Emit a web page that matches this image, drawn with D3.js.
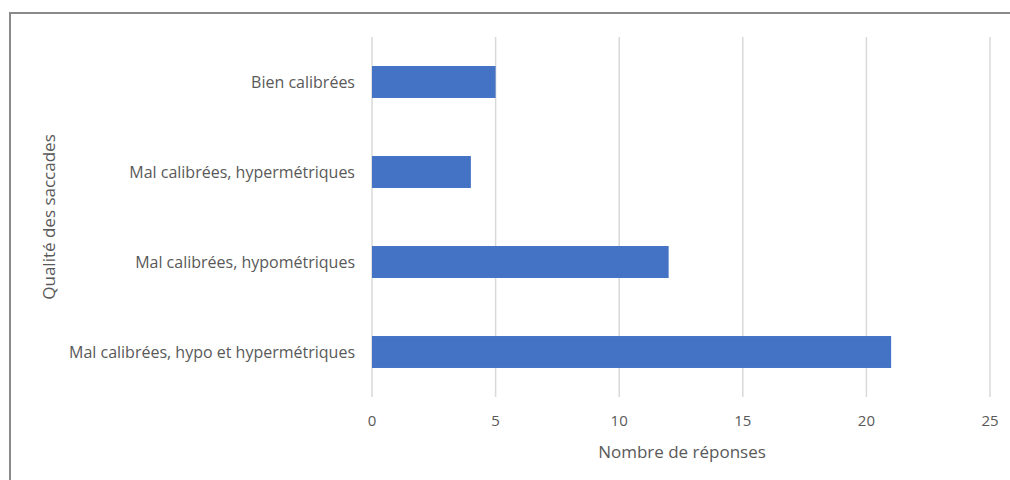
<!DOCTYPE html>
<html>
<head>
<meta charset="utf-8">
<script src="https://cdn.jsdelivr.net/npm/d3@7"></script>
<style>
  body { margin: 0; background: #fff; }
  svg text { font-family: 'Open Sans', sans-serif; fill: #595959; }
</style>
</head>
<body>
<svg id="chart" width="1010" height="480"></svg>
<script>
let categories = [
    'Bien calibrées',
    'Mal calibrées, hypermétriques',
    'Mal calibrées, hypométriques',
    'Mal calibrées, hypo et hypermétriques'
];
let values = [5, 4, 12, 21];
let xTicks = [0, 5, 10, 15, 20, 25];

let svg = d3.select('#chart');
let width = +svg.attr('width');
let height = +svg.attr('height');

let margin = { top: 37, right: 20, bottom: 83, left: 372 };

// chart frame (cropped screenshot border)
svg.append('path')
    .attr('d', 'M10,' + height + 'V13H' + width)
    .attr('fill', 'none')
    .attr('stroke', '#8a8a8a')
    .attr('stroke-width', 2);

let x = d3.scaleLinear()
    .domain([0, 25])
    .range([margin.left, 990]);

let y = d3.scaleBand()
    .domain(categories)
    .range([margin.top, height - margin.bottom])
    .paddingInner(0.645)
    .paddingOuter(0.3225);

// gridlines
svg.append('g')
    .selectAll('line')
    .data(xTicks)
    .enter()
    .append('line')
    .attr('x1', d => x(d))
    .attr('x2', d => x(d))
    .attr('y1', margin.top)
    .attr('y2', height - margin.bottom)
    .attr('stroke', '#d9d9d9')
    .attr('stroke-width', 1.5);

// bars
svg.append('g')
    .selectAll('rect')
    .data(values)
    .enter()
    .append('rect')
    .attr('x', x(0))
    .attr('y', (d, i) => y(categories[i]))
    .attr('width', d => x(d) - x(0))
    .attr('height', y.bandwidth())
    .attr('fill', '#4472c4');

// category labels
svg.append('g')
    .selectAll('text')
    .data(categories)
    .enter()
    .append('text')
    .attr('x', 355)
    .attr('y', d => y(d) + y.bandwidth() / 2)
    .attr('dy', '0.35em')
    .attr('text-anchor', 'end')
    .attr('font-size', 16)
    .text(d => d);

// tick labels
svg.append('g')
    .selectAll('text')
    .data(xTicks)
    .enter()
    .append('text')
    .attr('x', d => x(d))
    .attr('y', 421)
    .attr('dy', '0.35em')
    .attr('text-anchor', 'middle')
    .attr('font-size', 15)
    .text(d => d);

// axis titles
svg.append('text')
    .attr('x', 682)
    .attr('y', 452)
    .attr('dy', '0.35em')
    .attr('text-anchor', 'middle')
    .attr('font-size', 17)
    .text('Nombre de réponses');

svg.append('text')
    .attr('transform', 'translate(49,217) rotate(-90)')
    .attr('dy', '0.35em')
    .attr('text-anchor', 'middle')
    .attr('font-size', 17)
    .text('Qualité des saccades');
</script>
</body>
</html>
